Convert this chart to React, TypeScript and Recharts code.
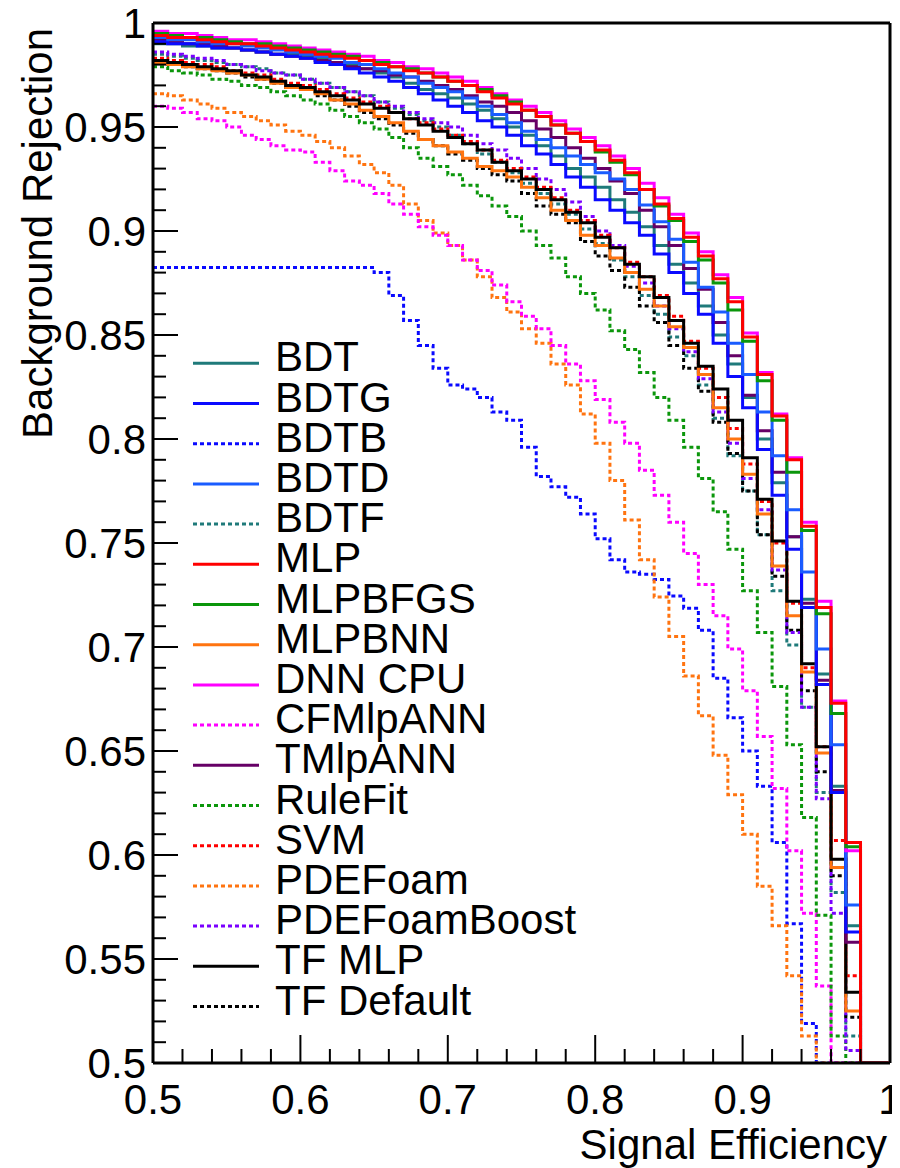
import React from 'react';
import { LineChart, Line, XAxis, YAxis, ReferenceLine, Legend } from 'recharts';

const FONT = '"Liberation Sans", Arial, Helvetica, sans-serif';

// signal-efficiency bin edges (left edge of each 0.01 bin, plus the closing edge 1.00)
const effBins = [
  0.50, 0.51, 0.52, 0.53, 0.54, 0.55, 0.56, 0.57, 0.58, 0.59,
  0.60, 0.61, 0.62, 0.63, 0.64, 0.65, 0.66, 0.67, 0.68, 0.69,
  0.70, 0.71, 0.72, 0.73, 0.74, 0.75, 0.76, 0.77, 0.78, 0.79,
  0.80, 0.81, 0.82, 0.83, 0.84, 0.85, 0.86, 0.87, 0.88, 0.89,
  0.90, 0.91, 0.92, 0.93, 0.94, 0.95, 0.96, 0.97, 0.98, 0.99, 1.00,
];

const seriesNames = [
  'BDT', 'BDTG', 'BDTB', 'BDTD', 'BDTF', 'MLP', 'MLPBFGS', 'MLPBNN', 'DNN CPU',
  'CFMlpANN', 'TMlpANN', 'RuleFit', 'SVM', 'PDEFoam', 'PDEFoamBoost', 'TF MLP', 'TF Default',
];

// background rejection per bin (0.50 ... 0.99); 0.5 = at/below the frame floor
const bdt = [
  0.990, 0.990, 0.989, 0.989, 0.988, 0.988, 0.987, 0.986, 0.985, 0.985,
  0.984, 0.983, 0.981, 0.980, 0.978, 0.976, 0.974, 0.971, 0.968, 0.966,
  0.964, 0.961, 0.958, 0.954, 0.950, 0.946, 0.941, 0.936, 0.930, 0.926,
  0.921, 0.915, 0.909, 0.902, 0.893, 0.884, 0.875, 0.864, 0.850, 0.836,
  0.820, 0.800, 0.779, 0.753, 0.723, 0.687, 0.633, 0.566, 0.5, 0.5,
];
const bdtg = [
  0.991, 0.990, 0.990, 0.989, 0.988, 0.988, 0.987, 0.986, 0.985, 0.984,
  0.983, 0.981, 0.980, 0.978, 0.976, 0.974, 0.972, 0.969, 0.966, 0.963,
  0.960, 0.957, 0.953, 0.950, 0.946, 0.941, 0.937, 0.932, 0.926, 0.921,
  0.915, 0.910, 0.904, 0.898, 0.889, 0.880, 0.870, 0.860, 0.846, 0.830,
  0.815, 0.795, 0.773, 0.747, 0.719, 0.682, 0.630, 0.563, 0.5, 0.5,
];
const bdtb = [
  0.8825, 0.8825, 0.8825, 0.8825, 0.8825, 0.8825, 0.8825, 0.8825, 0.8825, 0.8825,
  0.8825, 0.8825, 0.8825, 0.8825, 0.8825, 0.880, 0.869, 0.857, 0.845, 0.834,
  0.826, 0.824, 0.820, 0.813, 0.809, 0.796, 0.782, 0.777, 0.772, 0.764,
  0.752, 0.742, 0.736, 0.735, 0.7325, 0.7245, 0.7186, 0.708, 0.685, 0.666,
  0.650, 0.633, 0.606, 0.567, 0.519, 0.5, 0.5, 0.5, 0.5, 0.5,
];
const bdtd = [
  0.993, 0.992, 0.992, 0.991, 0.990, 0.990, 0.989, 0.988, 0.987, 0.986,
  0.985, 0.984, 0.983, 0.981, 0.980, 0.978, 0.976, 0.974, 0.971, 0.969,
  0.967, 0.964, 0.960, 0.956, 0.952, 0.948, 0.944, 0.940, 0.936, 0.932,
  0.928, 0.925, 0.920, 0.9125, 0.9045, 0.896, 0.885, 0.873, 0.861, 0.846,
  0.831, 0.813, 0.792, 0.766, 0.736, 0.699, 0.653, 0.576, 0.5, 0.5,
];
const bdtf = [
  0.985, 0.984, 0.983, 0.982, 0.981, 0.980, 0.979, 0.978, 0.976, 0.975,
  0.973, 0.971, 0.969, 0.967, 0.965, 0.962, 0.959, 0.956, 0.953, 0.950,
  0.946, 0.942, 0.937, 0.933, 0.928, 0.923, 0.918, 0.913, 0.908, 0.901,
  0.894, 0.886, 0.878, 0.869, 0.860, 0.849, 0.840, 0.826, 0.810, 0.792,
  0.775, 0.754, 0.727, 0.701, 0.671, 0.630, 0.582, 0.513, 0.5, 0.5,
];
const mlp = [
  0.994, 0.993, 0.993, 0.992, 0.991, 0.990, 0.990, 0.989, 0.988, 0.987,
  0.986, 0.985, 0.984, 0.983, 0.982, 0.980, 0.979, 0.977, 0.976, 0.974,
  0.972, 0.970, 0.967, 0.964, 0.961, 0.958, 0.955, 0.951, 0.947, 0.943,
  0.939, 0.934, 0.928, 0.920, 0.913, 0.906, 0.897, 0.888, 0.877, 0.866,
  0.849, 0.831, 0.811, 0.790, 0.758, 0.719, 0.673, 0.606, 0.5, 0.5,
];
const mlpbfgs = [
  0.995, 0.994, 0.993, 0.993, 0.992, 0.991, 0.990, 0.990, 0.989, 0.988,
  0.987, 0.986, 0.985, 0.984, 0.982, 0.981, 0.979, 0.978, 0.976, 0.974,
  0.972, 0.970, 0.968, 0.965, 0.962, 0.958, 0.955, 0.951, 0.947, 0.943,
  0.938, 0.933, 0.927, 0.920, 0.912, 0.905, 0.895, 0.886, 0.875, 0.862,
  0.847, 0.828, 0.809, 0.784, 0.756, 0.716, 0.668, 0.604, 0.5, 0.5,
];
const mlpbnn = [
  0.981, 0.980, 0.979, 0.978, 0.977, 0.976, 0.975, 0.973, 0.971, 0.969,
  0.968, 0.966, 0.963, 0.961, 0.958, 0.955, 0.952, 0.948, 0.944, 0.941,
  0.938, 0.935, 0.931, 0.929, 0.926, 0.921, 0.916, 0.910, 0.905, 0.898,
  0.893, 0.887, 0.880, 0.872, 0.864, 0.854, 0.844, 0.831, 0.815, 0.800,
  0.783, 0.764, 0.739, 0.715, 0.688, 0.649, 0.594, 0.525, 0.5, 0.5,
];
const dnnCpu = [
  0.996, 0.995, 0.995, 0.994, 0.993, 0.992, 0.992, 0.991, 0.990, 0.989,
  0.988, 0.987, 0.986, 0.985, 0.984, 0.982, 0.981, 0.979, 0.978, 0.976,
  0.974, 0.972, 0.969, 0.966, 0.963, 0.960, 0.957, 0.953, 0.949, 0.945,
  0.941, 0.936, 0.930, 0.923, 0.916, 0.908, 0.899, 0.890, 0.879, 0.868,
  0.851, 0.832, 0.812, 0.791, 0.760, 0.722, 0.674, 0.602, 0.5, 0.5,
];
const cfmlpann = [
  0.960, 0.959, 0.957, 0.954, 0.953, 0.950, 0.946, 0.944, 0.941, 0.939,
  0.938, 0.933, 0.929, 0.924, 0.922, 0.918, 0.913, 0.908, 0.902, 0.898,
  0.893, 0.886, 0.881, 0.874, 0.866, 0.859, 0.853, 0.845, 0.836, 0.828,
  0.819, 0.808, 0.798, 0.785, 0.773, 0.760, 0.745, 0.730, 0.715, 0.699,
  0.679, 0.657, 0.632, 0.602, 0.572, 0.537, 0.5, 0.5, 0.5, 0.5,
];
const tmlpann = [
  0.992, 0.991, 0.990, 0.990, 0.989, 0.988, 0.987, 0.986, 0.985, 0.984,
  0.983, 0.982, 0.981, 0.979, 0.978, 0.977, 0.975, 0.974, 0.972, 0.970,
  0.968, 0.965, 0.962, 0.960, 0.957, 0.953, 0.949, 0.945, 0.940, 0.935,
  0.930, 0.924, 0.918, 0.910, 0.902, 0.893, 0.882, 0.872, 0.856, 0.840,
  0.821, 0.804, 0.784, 0.753, 0.721, 0.684, 0.631, 0.558, 0.5, 0.5,
];
const ruleFit = [
  0.979, 0.977, 0.976, 0.975, 0.973, 0.972, 0.970, 0.969, 0.967, 0.965,
  0.963, 0.961, 0.958, 0.955, 0.952, 0.949, 0.945, 0.940, 0.935, 0.931,
  0.927, 0.922, 0.917, 0.912, 0.907, 0.900, 0.893, 0.887, 0.878, 0.870,
  0.862, 0.852, 0.843, 0.832, 0.820, 0.809, 0.796, 0.781, 0.765, 0.747,
  0.727, 0.707, 0.681, 0.653, 0.618, 0.571, 0.513, 0.5, 0.5, 0.5,
];
const svm = [
  0.983, 0.982, 0.981, 0.980, 0.979, 0.977, 0.976, 0.975, 0.973, 0.971,
  0.970, 0.968, 0.966, 0.964, 0.962, 0.960, 0.957, 0.954, 0.952, 0.949,
  0.946, 0.943, 0.939, 0.934, 0.930, 0.926, 0.921, 0.916, 0.910, 0.905,
  0.898, 0.892, 0.885, 0.878, 0.869, 0.859, 0.847, 0.834, 0.820, 0.805,
  0.788, 0.770, 0.750, 0.721, 0.690, 0.652, 0.607, 0.542, 0.5, 0.5,
];
const pdeFoam = [
  0.966, 0.965, 0.963, 0.961, 0.959, 0.957, 0.955, 0.953, 0.951, 0.948,
  0.946, 0.943, 0.940, 0.936, 0.932, 0.928, 0.922, 0.913, 0.905, 0.899,
  0.893, 0.886, 0.878, 0.868, 0.861, 0.853, 0.846, 0.836, 0.826, 0.812,
  0.798, 0.780, 0.761, 0.742, 0.724, 0.705, 0.686, 0.667, 0.648, 0.629,
  0.610, 0.585, 0.566, 0.542, 0.513, 0.5, 0.5, 0.5, 0.5, 0.5,
];
const pdeFoamBoost = [
  0.986, 0.985, 0.984, 0.983, 0.982, 0.980, 0.979, 0.977, 0.976, 0.975,
  0.973, 0.971, 0.969, 0.967, 0.965, 0.962, 0.960, 0.957, 0.954, 0.952,
  0.950, 0.946, 0.942, 0.939, 0.935, 0.930, 0.925, 0.920, 0.914, 0.907,
  0.900, 0.893, 0.883, 0.875, 0.864, 0.853, 0.842, 0.829, 0.813, 0.798,
  0.781, 0.766, 0.737, 0.707, 0.671, 0.627, 0.572, 0.506, 0.5, 0.5,
];
const tfMlp = [
  0.982, 0.981, 0.980, 0.979, 0.978, 0.977, 0.975, 0.974, 0.972, 0.970,
  0.969, 0.967, 0.965, 0.963, 0.961, 0.959, 0.957, 0.954, 0.951, 0.948,
  0.945, 0.942, 0.939, 0.933, 0.929, 0.925, 0.920, 0.915, 0.909, 0.904,
  0.897, 0.892, 0.884, 0.878, 0.868, 0.857, 0.846, 0.835, 0.824, 0.809,
  0.791, 0.771, 0.751, 0.722, 0.692, 0.652, 0.598, 0.534, 0.5, 0.5,
];
const tfDefault = [
  0.981, 0.980, 0.979, 0.978, 0.977, 0.976, 0.974, 0.973, 0.971, 0.969,
  0.968, 0.965, 0.963, 0.960, 0.957, 0.954, 0.951, 0.947, 0.944, 0.941,
  0.937, 0.934, 0.930, 0.927, 0.924, 0.918, 0.912, 0.908, 0.904, 0.895,
  0.888, 0.881, 0.873, 0.864, 0.856, 0.845, 0.834, 0.823, 0.808, 0.793,
  0.775, 0.754, 0.734, 0.708, 0.679, 0.640, 0.590, 0.522, 0.5, 0.5,
];

const seriesValues = [
  bdt, bdtg, bdtb, bdtd, bdtf, mlp, mlpbfgs, mlpbnn, dnnCpu,
  cfmlpann, tmlpann, ruleFit, svm, pdeFoam, pdeFoamBoost, tfMlp, tfDefault,
];

// styles (legend order)
const seriesColors = [
  '#1f7a7a', '#0a0aff', '#0a0aff', '#1a5cff', '#1f7a7a', '#ff0000', '#0b960b', '#ff7410', '#ff00ff',
  '#ff00ff', '#660066', '#0b960b', '#ff0000', '#ff7410', '#7a00ff', '#000000', '#000000',
];
const seriesDashed = [
  false, false, true, false, true, false, false, false, false,
  true, false, true, true, true, true, false, true,
];
// z-order of drawing (first = bottom)
const drawOrder = [2, 13, 9, 11, 4, 16, 14, 12, 7, 15, 0, 10, 1, 3, 8, 6, 5];

const yMajorTicks = [0.5, 0.55, 0.6, 0.65, 0.7, 0.75, 0.8, 0.85, 0.9, 0.95, 1];
const yTickLabels = ['0.5', '0.55', '0.6', '0.65', '0.7', '0.75', '0.8', '0.85', '0.9', '0.95', '1'];
const xMajorTicks = [0.5, 0.6, 0.7, 0.8, 0.9, 1];
const xTickLabels = ['0.5', '0.6', '0.7', '0.8', '0.9', '1'];

const yAllTicks: number[] = [];
for (let i = 0; i <= 50; i++) yAllTicks.push((50 + i) / 100);
const xAllTicks: number[] = [];
for (let i = 0; i <= 25; i++) xAllTicks.push((50 + 2 * i) / 100);

const data = effBins.map((x, i) => {
  const row: Record<string, number> = { x };
  seriesValues.forEach((vals, s) => {
    row['s' + s] = vals[Math.min(i, vals.length - 1)];
  });
  return row;
});

const DASH = '4 3';
const LW = 3;

const YTick = (props: any) => {
  const { x, y, payload } = props;
  const v = payload.value;
  const idx = yMajorTicks.findIndex((t) => Math.abs(t - v) < 1e-6);
  const major = idx >= 0;
  return (
    <g>
      <line x1={x} y1={y} x2={x + (major ? 25 : 13)} y2={y} stroke="#000" strokeWidth={2} />
      {major && (
        <text x={x - 7} y={y} dy="0.36em" textAnchor="end" fontSize={42} fontFamily={FONT} fill="#000">
          {yTickLabels[idx]}
        </text>
      )}
    </g>
  );
};

const XTick = (props: any) => {
  const { x, y, payload } = props;
  const v = payload.value;
  const idx = xMajorTicks.findIndex((t) => Math.abs(t - v) < 1e-6);
  const major = idx >= 0;
  return (
    <g>
      <line x1={x} y1={y} x2={x} y2={y - (major ? 28 : 14)} stroke="#000" strokeWidth={2} />
      {major && (
        <text x={x} y={y + 51} textAnchor="middle" fontSize={42} fontFamily={FONT} fill="#000">
          {xTickLabels[idx]}
        </text>
      )}
    </g>
  );
};

const LegendBox = () => (
  <svg width={420} height={700} style={{ display: 'block', overflow: 'visible' }}>
    {seriesNames.map((name, i) => {
      const y = 33.3 + 40.2 * i;
      return (
        <g key={name}>
          <line
            x1={13}
            x2={79}
            y1={y}
            y2={y}
            stroke={seriesColors[i]}
            strokeWidth={LW}
            strokeDasharray={seriesDashed[i] ? DASH : undefined}
          />
          <text x={95} y={y + 8} fontSize={42} fontFamily={FONT} fill="#000">
            {name}
          </text>
        </g>
      );
    })}
  </svg>
);

export default function App() {
  return (
    <div style={{ width: 892, height: 1160, position: 'relative', background: '#fff' }}>
      <LineChart
        width={892}
        height={1160}
        data={data}
        margin={{ top: 15, right: 10, bottom: 104, left: 144 }}
      >
        <XAxis
          dataKey="x"
          type="number"
          domain={[0.5, 1]}
          ticks={xAllTicks}
          interval={0}
          tickSize={0}
          tickMargin={0}
          tickLine={false}
          height={1}
          axisLine={{ stroke: '#000', strokeWidth: 3 }}
          tick={<XTick />}
          label={{
            content: () => (
              <text x={879} y={1151} textAnchor="end" fontSize={42} fontFamily={FONT} fill="#000">
                Signal Efficiency
              </text>
            ),
          }}
        />
        <YAxis
          type="number"
          domain={[0.5, 1]}
          allowDataOverflow
          ticks={yAllTicks}
          interval={0}
          tickSize={0}
          tickMargin={0}
          tickLine={false}
          width={1}
          axisLine={{ stroke: '#000', strokeWidth: 3 }}
          tick={<YTick />}
          label={{
            content: () => (
              <text
                transform="translate(44,20) rotate(-90)"
                x={0}
                y={0}
                textAnchor="end"
                fontSize={42}
                fontFamily={FONT}
                fill="#000"
              >
                Background Rejection
              </text>
            ),
          }}
        />
        <ReferenceLine y={1} stroke="#000" strokeWidth={3} />
        <ReferenceLine x={1} stroke="#000" strokeWidth={3} />
        {drawOrder.map((s) => (
          <Line
            key={'s' + s}
            dataKey={'s' + s}
            name={seriesNames[s]}
            type="stepAfter"
            stroke={seriesColors[s]}
            strokeWidth={LW}
            strokeDasharray={seriesDashed[s] ? DASH : undefined}
            strokeLinecap="butt"
            dot={false}
            activeDot={false}
            isAnimationActive={false}
          />
        ))}
        <Legend
          layout="vertical"
          align="center"
          verticalAlign="middle"
          wrapperStyle={{ left: 172, top: 322, width: 420, height: 700 }}
          content={() => <LegendBox />}
        />
      </LineChart>
    </div>
  );
}
